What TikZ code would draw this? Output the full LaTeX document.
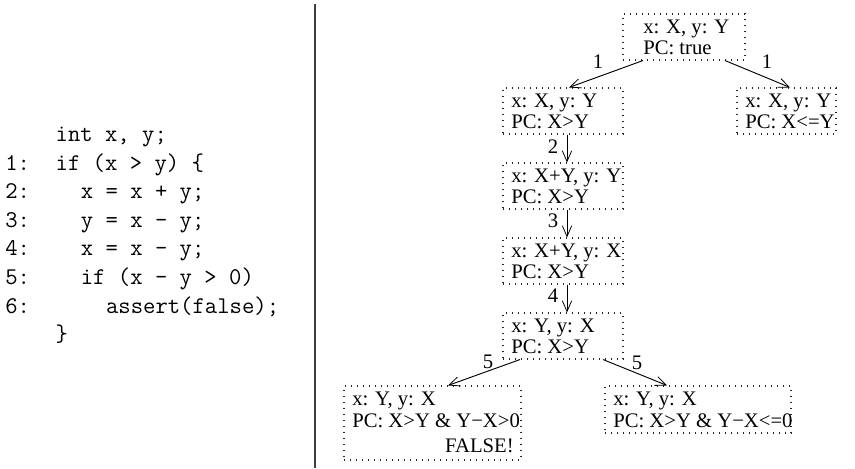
\documentclass[tikz,border=0pt]{standalone}
\usepackage{fontspec}
\setmainfont{Liberation Serif}
\usetikzlibrary{arrows.meta,calc}
\newdimen\pxu
\pxu=0.75pt
\begin{document}
\begin{tikzpicture}[x=0.75pt,y=-0.75pt,
  box/.style={draw=black!85, line width=0.8pt, dash pattern=on 0.8pt off 3.7pt, rectangle, inner sep=0pt},
  txt/.style={inner sep=0pt, anchor=base west, font=\fontsize{15.5}{18}\selectfont},
  lbl/.style={inner sep=0pt, anchor=center, font=\fontsize{15.5}{18}\selectfont},
  code/.style={inner sep=0pt, anchor=base west, font=\ttfamily\fontsize{18}{21}\selectfont},
  arr/.style={line width=0.7pt, -{Straight Barb[length=8pt,width=7pt,line width=0.6pt]}},
  sep/.style={line width=1pt, black!75}]
\useasboundingbox (0,0) rectangle (855,468);
% separator
\coordinate (septop) at (315,4);
\coordinate (sepbot) at (315,468);
\draw[sep] (septop) -- (sepbot);
% code
\node[code] (c0) at (55.4,141.4) {int x, y;};
\node[code] (n1) at (5,170) {1:};
\node[code] (c1) at (55.4,170) {if (x > y) \{};
\node[code] (n2) at (5,198.6) {2:};
\node[code] (c2) at (80.6,198.6) {x = x + y;};
\node[code] (n3) at (5,227.2) {3:};
\node[code] (c3) at (80.6,227.2) {y = x - y;};
\node[code] (n4) at (5,255.8) {4:};
\node[code] (c4) at (80.6,255.8) {x = x - y;};
\node[code] (n5) at (5,284.4) {5:};
\node[code] (c5) at (80.6,284.4) {if (x - y > 0)};
\node[code] (n6) at (5,313) {6:};
\node[code] (c6) at (105.8,313) {assert(false);};
\node[code] (c7) at (55.4,341.6) {\}};
% boxes
\node[box, minimum width=122\pxu, minimum height=46\pxu] (root) at (684,37) {};
\node[box, minimum width=120\pxu, minimum height=46\pxu] (a) at (563,111) {};
\node[box, minimum width=99\pxu, minimum height=46\pxu] (b) at (786.5,111) {};
\node[box, minimum width=120\pxu, minimum height=46\pxu] (c) at (563,186) {};
\node[box, minimum width=120\pxu, minimum height=46\pxu] (d) at (563,261) {};
\node[box, minimum width=120\pxu, minimum height=46\pxu] (e) at (563,336) {};
\node[box, minimum width=177\pxu, minimum height=74\pxu] (f) at (432.5,423) {};
\node[box, minimum width=186\pxu, minimum height=47\pxu] (g) at (698,409.5) {};
% texts
\node[txt] (root1) at (643,33.5) {x: X, y: Y};
\node[txt] (root2) at (643,54.5) {PC: true};
\node[txt] (a1) at (511,107.5) {x: X, y: Y};
\node[txt] (a2) at (511,128.5) {PC: X>Y};
\node[txt] (b1) at (745,107.5) {x: X, y: Y};
\node[txt] (b2) at (745,128.5) {PC: X<=Y};
\node[txt] (c1t) at (511,182.5) {x: X+Y, y: Y};
\node[txt] (c2t) at (511,203.5) {PC: X>Y};
\node[txt] (d1) at (511,257.5) {x: X+Y, y: X};
\node[txt] (d2) at (511,278.5) {PC: X>Y};
\node[txt] (e1) at (511,332.5) {x: Y, y: X};
\node[txt] (e2) at (511,353.5) {PC: X>Y};
\node[txt] (f1) at (352,405.5) {x: Y, y: X};
\node[txt] (f2) at (352,427) {PC: X>Y \& Y−X>0};
\node[txt, anchor=base east] (f3) at (514,452) {FALSE!};
\node[txt] (g1) at (613,405.5) {x: Y, y: X};
\node[txt] (g2) at (613,427) {PC: X>Y \& Y−X<=0};
% arrows
\draw[arr] ($(root.south)+(-41,0)$) -- ($(a.north)+(6,0)$);
\draw[arr] ($(root.south)+(41,0)$) -- ($(b.north)+(3.5,0)$);
\draw[arr] ($(a.south)+(4,0)$) -- ($(c.north)+(4,0)$);
\draw[arr] ($(c.south)+(4,0)$) -- ($(d.north)+(4,0)$);
\draw[arr] ($(d.south)+(4,0)$) -- ($(e.north)+(4,0)$);
\draw[arr] ($(e.south)+(-43,0)$) -- ($(f.north)+(15.5,0)$);
\draw[arr] ($(e.south)+(40,0)$) -- ($(g.north)+(-31,0)$);
% labels
\node[lbl] (l1) at (598,62) {1};
\node[lbl] (l2) at (767,62) {1};
\node[lbl] (l3) at (553,147) {2};
\node[lbl] (l4) at (553,221) {3};
\node[lbl] (l5) at (553,296) {4};
\node[lbl] (l6) at (488,362) {5};
\node[lbl] (l7) at (637,363) {5};
\end{tikzpicture}
\end{document}
